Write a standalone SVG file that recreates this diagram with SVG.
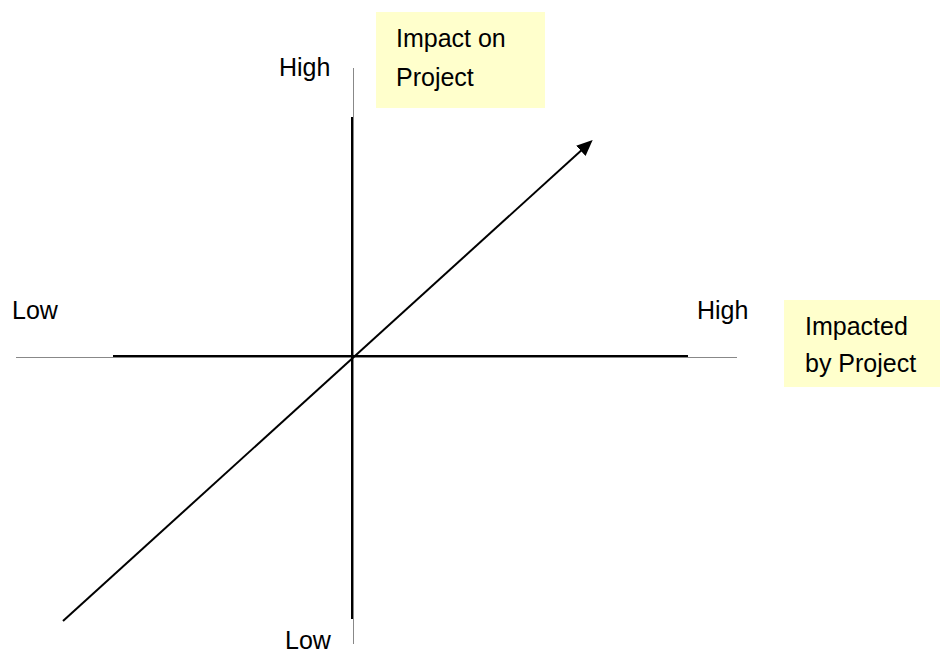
<svg xmlns="http://www.w3.org/2000/svg" width="940" height="655" viewBox="0 0 940 655">
<style>
.t{font-family:"Liberation Sans",Arial,sans-serif;font-size:25px;fill:#000}
.thin{stroke:#888;stroke-width:1;fill:none}
.thick{stroke:#000;stroke-width:2;fill:none}
.box{fill:#FFFFCC;stroke:none}
</style>
<defs>
<marker id="ah" markerUnits="userSpaceOnUse" markerWidth="18" markerHeight="16" refX="9" refY="7" orient="auto">
<path d="M0,0 L16,7 L0,14 z" fill="#000"/>
</marker>
</defs>
<rect width="940" height="655" fill="#fff"/>
<g id="connectors">
<line class="thin" x1="16" y1="357.5" x2="737" y2="357.5"/>
<line class="thin" x1="353.5" y1="68" x2="353.5" y2="644"/>
<line class="thick" x1="113" y1="356" x2="688" y2="356"/>
<line class="thick" x1="352" y1="117" x2="352" y2="619"/>
<line class="thick" x1="63" y1="621" x2="587.5" y2="144.8" marker-end="url(#ah)"/>
</g>
<g id="label-high-top"><text class="t" x="279" y="76">High</text></g>
<g id="label-low-left"><text class="t" x="12" y="319">Low</text></g>
<g id="label-high-right"><text class="t" x="697" y="319">High</text></g>
<g id="label-low-bottom"><text class="t" x="285" y="649">Low</text></g>
<g id="impact-on-project">
<rect class="box" x="376" y="12" width="169" height="96"/>
<text class="t" x="396" y="47">Impact on</text>
<text class="t" x="396" y="86">Project</text>
</g>
<g id="impacted-by-project">
<rect class="box" x="784" y="300" width="156" height="87"/>
<text class="t" x="805" y="335">Impacted</text>
<text class="t" x="805" y="372">by Project</text>
</g>
</svg>
